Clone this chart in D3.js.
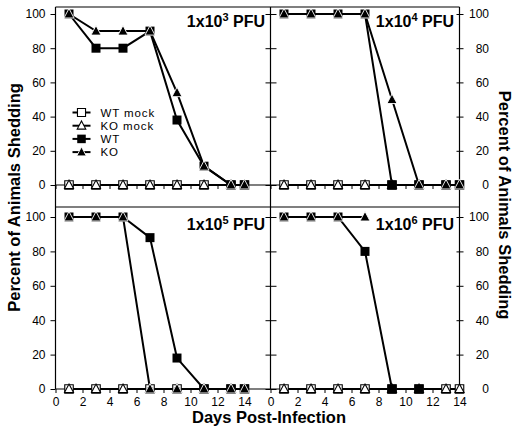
<!DOCTYPE html>
<html><head><meta charset="utf-8">
<script src="https://cdn.jsdelivr.net/npm/d3@7"></script>
<style>
body{margin:0;background:#fff;}
svg{display:block;font-family:"Liberation Sans",Arial,sans-serif;}
</style></head>
<body>
<svg id="c" width="520" height="437"></svg>
<script>
// ---- data ----
const days = [1, 3, 5, 7, 9, 11, 13, 14];
const doseExponents = ["3", "4", "5", "6"];
const wtMock = [0, 0, 0, 0, 0, 0, 0, 0];
const koMock = [0, 0, 0, 0, 0, 0, 0, 0];
const wt3 = [100, 80, 80, 90, 38, 11, 0, 0];
const ko3 = [100, 90, 90, 90, 54, 11, 0, 0];
const wt4 = [100, 100, 100, 100, 0, 0, 0, 0];
const ko4 = [100, 100, 100, 100, 50, 0, 0, 0];
const wt5 = [100, 100, 100, 88, 18, 0, 0, 0];
const ko5 = [100, 100, 100, 0, 0, 0, 0, 0];
const wt6 = [100, 100, 100, 80, 0, 0, null, null];
const ko6 = [100, 100, 100, 100, null, null, null, null];
const yTicks = [0, 20, 40, 60, 80, 100];
const xTickLabels = [0, 2, 4, 6, 8, 10, 12, 14];
const legendLabels = ["WT mock", "KO mock", "WT", "KO"];
const yTitle = "Percent of Animals Shedding";
const xTitle = "Days Post-Infection";

const panels = [
  {exp: doseExponents[0], wt: wt3, ko: ko3, col: 0, row: 0},
  {exp: doseExponents[1], wt: wt4, ko: ko4, col: 1, row: 0},
  {exp: doseExponents[2], wt: wt5, ko: ko5, col: 0, row: 1},
  {exp: doseExponents[3], wt: wt6, ko: ko6, col: 1, row: 1}
];

const svg = d3.select("#c");
const colX = [[55.5, 244.5], [270.5, 459.5]];
const rowY = [[185, 14], [389, 217]];
const L = 55.5, M = 270.5, R = 459.5, T = 7, MID = 207, B = 389;

const sq = s => `M${-s/2},${-s/2}H${s/2}V${s/2}H${-s/2}Z`;
const tri = (w, h) => `M0,${-h*0.58}L${w/2},${h*0.42}L${-w/2},${h*0.42}Z`;

function marker(g, type, x, y, scale) {
  scale = scale || 1;
  const p = g.append("path").attr("transform", `translate(${x},${y})`);
  if (type === "wtMock") p.attr("d", sq(8.5*scale)).attr("fill", "#fff").attr("stroke", "#000").attr("stroke-width", 1.1);
  if (type === "koMock") p.attr("d", tri(9*scale, 8.5*scale)).attr("fill", "#fff").attr("stroke", "#000").attr("stroke-width", 1.1);
  if (type === "wt") p.attr("d", sq(9*scale)).attr("fill", "#000");
  if (type === "ko") p.attr("d", tri(10*scale, 9.5*scale)).attr("fill", "#000").attr("stroke", "#fff").attr("stroke-width", 0.9);
}

// frame lines
const frame = svg.append("g").attr("stroke", "#000").attr("stroke-width", 1.2);
[[L, T, R, T], [L, MID, R, MID], [L, T, L, B], [M, T, M, B], [R, T, R, B]].forEach(d =>
  frame.append("line").attr("x1", d[0]).attr("y1", d[1]).attr("x2", d[2]).attr("y2", d[3]));

panels.forEach(p => {
  const x = d3.scaleLinear().domain([0, 14]).range(colX[p.col]);
  const y = d3.scaleLinear().domain([0, 100]).range(rowY[p.row]);
  const g = svg.append("g");
  const y0 = y(0);

  // x axis
  const xa = d3.axisBottom(x).tickValues(d3.range(0, 15)).tickSize(4).tickPadding(4)
    .tickFormat(d => (p.row === 1 && xTickLabels.includes(d)) ? d : "");
  const xg = g.append("g").attr("transform", `translate(0,${y0})`).call(xa);
  xg.select(".domain").remove();
  xg.selectAll("line").attr("stroke-width", 1);
  xg.selectAll("text").filter(function() { return this.textContent === ""; }).remove();
  xg.selectAll("text").attr("font-size", 12).attr("fill", "#000");
  g.append("line").attr("x1", colX[p.col][0]).attr("x2", p.col === 0 ? M : R)
    .attr("y1", y0).attr("y2", y0).attr("stroke", "#000").attr("stroke-width", 1.2);

  // y axes
  if (p.col === 0) {
    const ya = d3.axisLeft(y).tickValues(yTicks).tickSize(5).tickPadding(5);
    const yg = g.append("g").attr("transform", `translate(${L},0)`).call(ya);
    yg.select(".domain").remove();
    yg.selectAll("text").attr("font-size", 12).attr("fill", "#000");
  } else {
    const yl = g.append("g").attr("transform", `translate(${M},0)`)
      .call(d3.axisLeft(y).tickValues(yTicks).tickSize(5).tickFormat(""));
    yl.select(".domain").remove();
    yl.selectAll("text").remove();
    const yr = g.append("g").attr("transform", `translate(${M},0)`)
      .call(d3.axisRight(y).tickValues(yTicks).tickSize(6).tickFormat(""));
    yr.select(".domain").remove();
    yr.selectAll("text").remove();
    const ya = d3.axisRight(y).tickValues(yTicks).tickSize(4).tickPadding(0);
    const yg = g.append("g").attr("transform", `translate(${R},0)`).call(ya);
    yg.select(".domain").remove();
    yg.selectAll("text").attr("font-size", 12).attr("fill", "#000")
      .attr("text-anchor", "end").attr("x", 29.5);
    const yi = g.append("g").attr("transform", `translate(${R},0)`)
      .call(d3.axisLeft(y).tickValues(yTicks).tickSize(3).tickFormat(""));
    yi.select(".domain").remove();
    yi.selectAll("text").remove();
  }

  // lines
  const line = d3.line().defined(d => d[1] !== null).x(d => x(d[0])).y(d => y(d[1]));
  const series = [["wtMock", wtMock], ["koMock", koMock], ["wt", p.wt], ["ko", p.ko]];
  series.forEach(([k, vals]) => {
    const pts = days.map((d, i) => [d, vals[i]]);
    g.append("path").attr("d", line(pts)).attr("fill", "none")
      .attr("stroke", "#000").attr("stroke-width", 2);
  });
  series.forEach(([k, vals]) => {
    days.forEach((d, i) => { if (vals[i] !== null) marker(g, k, x(d), y(vals[i])); });
  });

  // panel label
  const lab = g.append("text").attr("x", p.col === 0 ? 265 : 454)
    .attr("y", p.row === 0 ? 27 : 230).attr("text-anchor", "end")
    .attr("font-size", 16).attr("font-weight", "bold");
  lab.append("tspan").text("1x10");
  lab.append("tspan").attr("font-size", 11).attr("dy", -6).text(p.exp);
  lab.append("tspan").attr("dy", 6).text(" PFU");
});

// legend
const lg = svg.append("g");
legendLabels.forEach((t, i) => {
  const yy = 112.5 + i * 13.2;
  lg.append("line").attr("x1", 72.5).attr("x2", 90.5).attr("y1", yy).attr("y2", yy)
    .attr("stroke", "#000").attr("stroke-width", 2);
  marker(lg, ["wtMock", "koMock", "wt", "ko"][i], 81.5, yy, 0.95);
  lg.append("text").attr("x", 100.5).attr("y", yy).attr("dy", "0.36em")
    .attr("font-size", 11.5).attr("letter-spacing", "0.9px").text(t);
});

// titles
svg.append("text").attr("transform", "translate(20,197.5) rotate(-90)")
  .attr("text-anchor", "middle").attr("font-size", 16.5).attr("font-weight", "bold").text(yTitle);
svg.append("text").attr("transform", "translate(499,205) rotate(90)")
  .attr("text-anchor", "middle").attr("font-size", 16.5).attr("font-weight", "bold").text(yTitle);
svg.append("text").attr("x", 269).attr("y", 422.5).attr("text-anchor", "middle")
  .attr("font-size", 16.5).attr("font-weight", "bold").text(xTitle);
</script>
</body></html>
